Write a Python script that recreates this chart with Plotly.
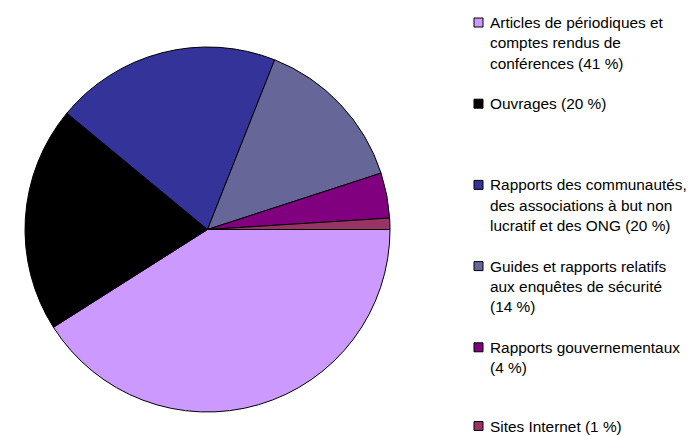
import plotly.graph_objects as go

labels = [
    "Articles de périodiques et\ncomptes rendus de\nconférences (41 %)",
    "Ouvrages (20 %)",
    "Rapports des communautés,\ndes associations à but non\nlucratif et des ONG (20 %)",
    "Guides et rapports relatifs\naux enquêtes de sécurité\n(14 %)",
    "Rapports gouvernementaux\n(4 %)",
    "Sites Internet (1 %)",
]
values = [41, 20, 20, 14, 4, 1]
colors = ["#CC99FF", "#000000", "#333399", "#666699", "#800080", "#993366"]
# legend line slot (0-based) where each item starts
legend_slots = [0, 4, 8, 12, 16, 20]

OFF = 8  # page body margin
W, H = 695 - OFF, 436 - OFF


def px(x):
    return (x - OFF) / W


def py(y):
    return 1 - (y - OFF) / H


fig = go.Figure()
fig.add_trace(go.Pie(
    labels=[l.replace("\n", " ") for l in labels],
    values=values,
    marker=dict(colors=colors, line=dict(color="#000000", width=1)),
    sort=False,
    direction="clockwise",
    rotation=90,
    textinfo="none",
    hoverinfo="label+percent",
    showlegend=False,
    domain=dict(x=[px(25), px(390)], y=[py(412), py(47)]),
))

first_line_y = 22.5
line_gap = 20.3
text_x = 489
sq_x0, sq_size = 474, 9
annotations = []
shapes = []
for lab, col, slot in zip(labels, colors, legend_slots):
    y0 = min(first_line_y + slot * line_gap, 426)
    for i, line in enumerate(lab.split("\n")):
        yl = y0 + i * line_gap
        annotations.append(dict(
            x=px(text_x), y=py(yl), xref="paper", yref="paper",
            xanchor="left", yanchor="middle", text=line, showarrow=False,
            borderpad=0,
            font=dict(family="Liberation Sans, Arial", size=15.4, color="#000000"),
        ))
    shapes.append(dict(
        type="rect", xref="paper", yref="paper",
        x0=px(sq_x0), x1=px(sq_x0 + sq_size),
        y0=py(y0 - sq_size / 2), y1=py(y0 + sq_size / 2),
        fillcolor=col, line=dict(color="#000000", width=1),
    ))

fig.update_layout(
    width=W, height=H,
    margin=dict(l=0, r=0, t=0, b=0),
    paper_bgcolor="#FFFFFF",
    plot_bgcolor="#FFFFFF",
    annotations=annotations,
    shapes=shapes,
    showlegend=False,
)
fig.write_html("out.html")
